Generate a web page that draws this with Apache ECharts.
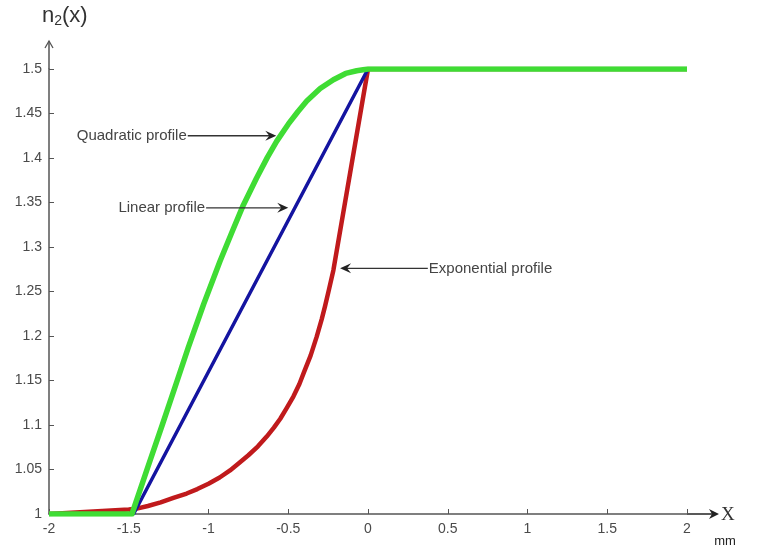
<!DOCTYPE html>
<html><head><meta charset="utf-8">
<script src="https://cdn.jsdelivr.net/npm/echarts@6/dist/echarts.min.js"></script>
<style>html,body{margin:0;padding:0;background:#fff}#c{width:757px;height:554px}</style>
</head><body><div id="c"></div>
<script>
// Quadratic profile (green)
const quadX = [-2, -1.48, -1.38, -1.29, -1.2, -1.127, -1.03, -0.928, -0.85, -0.782, -0.7, -0.63, -0.572, -0.5, -0.44, -0.384, -0.3, -0.217, -0.14, -0.071, 0, 2];
const quadY = [1, 1, 1.053, 1.100, 1.148, 1.187, 1.236, 1.284, 1.318, 1.347, 1.377, 1.401, 1.419, 1.438, 1.452, 1.464, 1.478, 1.488, 1.495, 1.498, 1.5, 1.5];
// Linear profile (blue)
const linX = [-2, -1.47, 0, 2];
const linY = [1, 1, 1.5, 1.5];
// Exponential profile (red)
const expX = [-2, -1.5, -1.45, -1.38, -1.3, -1.22, -1.137, -1.07, -1.0, -0.93, -0.865, -0.81, -0.75, -0.69, -0.635, -0.59, -0.55, -0.51, -0.468, -0.43, -0.4, -0.36, -0.322, -0.29, -0.27, -0.245, -0.217, 0, 2];
const expY = [1, 1.005, 1.006, 1.009, 1.013, 1.018, 1.023, 1.028, 1.034, 1.041, 1.049, 1.057, 1.066, 1.076, 1.087, 1.097, 1.107, 1.119, 1.132, 1.146, 1.160, 1.178, 1.199, 1.219, 1.233, 1.252, 1.274, 1.5, 1.5];

// Annotations (arrows in data units)
const annText  = ['Quadratic profile', 'Linear profile', 'Exponential profile'];
const annFromX = [-1.13, -1.015, 0.375];
const annToX   = [-0.575, -0.50, -0.175];
const annY     = [1.425, 1.344, 1.276];
const annSide  = ['left', 'left', 'right'];

const zip = (xs, ys) => xs.map((x, i) => [x, ys[i]]);
const chart = echarts.init(document.getElementById('c'), null, {renderer: 'canvas'});
const axisColor = '#555';
const labelFont = 'Liberation Sans, Arial, sans-serif';
const fmt = v => String(parseFloat(v.toFixed(2)));

chart.setOption({
  animation: false,
  backgroundColor: '#fff',
  grid: {left: 49, right: 70, top: 69, bottom: 40, containLabel: false, outerBoundsMode: 'none'},
  xAxis: {
    type: 'value', min: -2, max: 2, interval: 0.5,
    axisLine: {onZero: false, lineStyle: {color: axisColor, width: 1.5}},
    axisTick: {inside: true, length: 5, lineStyle: {color: axisColor}},
    splitLine: {show: false},
    axisLabel: {color: '#4a4a4a', fontSize: 14, fontFamily: labelFont, margin: 8, showMinLabel: true, showMaxLabel: true, formatter: fmt}
  },
  yAxis: {
    type: 'value', min: 1, max: 1.5, interval: 0.05,
    axisLine: {onZero: false, lineStyle: {color: axisColor, width: 1.5}},
    axisTick: {inside: true, length: 5, lineStyle: {color: axisColor}},
    splitLine: {show: false},
    axisLabel: {color: '#4a4a4a', fontSize: 14, fontFamily: labelFont, margin: 7, showMinLabel: true, showMaxLabel: true, formatter: fmt}
  },
  series: [
    {name: 'Exponential', type: 'line', data: zip(expX, expY), showSymbol: false, z: 2,
     lineStyle: {color: '#c01a1c', width: 4.5, join: 'round'}},
    {name: 'Linear', type: 'line', data: zip(linX, linY), showSymbol: false, z: 3,
     lineStyle: {color: '#1414a0', width: 3.5}},
    {name: 'Quadratic', type: 'line', data: zip(quadX, quadY), showSymbol: false, z: 4,
     lineStyle: {color: '#3fdc34', width: 5.5, join: 'round'}}
  ]
});

function px(x, y) { return chart.convertToPixel({gridIndex: 0}, [x, y]); }
const g = [];
const annFont = '15px Liberation Sans, Arial, sans-serif';
annText.forEach((t, i) => {
  const a = px(annFromX[i], annY[i]);
  const b = px(annToX[i], annY[i]);
  const dir = b[0] > a[0] ? 1 : -1;
  g.push({type: 'line', shape: {x1: a[0], y1: a[1], x2: b[0] - dir * 4, y2: b[1]},
          style: {stroke: '#333', lineWidth: 1.3}, z: 10});
  g.push({type: 'polygon', shape: {points: [[b[0], b[1]], [b[0] - dir * 11, b[1] - 5], [b[0] - dir * 7, b[1]], [b[0] - dir * 11, b[1] + 5]]},
          style: {fill: '#222'}, z: 10});
  g.push({type: 'text', x: annSide[i] === 'left' ? a[0] - 1 : a[0] + 1, y: a[1],
          style: {text: t, font: annFont, fill: '#444', align: annSide[i] === 'left' ? 'right' : 'left', verticalAlign: 'middle'}, z: 10});
});
// axis arrow extensions
const o = px(-2, 1), yTop = px(-2, 1.5), xEnd = px(2, 1);
g.push({type: 'line', shape: {x1: o[0], y1: yTop[1], x2: o[0], y2: yTop[1] - 28}, style: {stroke: axisColor, lineWidth: 1.5}});
g.push({type: 'polyline', shape: {points: [[o[0] - 4, yTop[1] - 21], [o[0], yTop[1] - 28], [o[0] + 4, yTop[1] - 21]]}, style: {stroke: axisColor, lineWidth: 1.3, fill: null}});
g.push({type: 'line', shape: {x1: xEnd[0], y1: xEnd[1], x2: xEnd[0] + 26, y2: xEnd[1]}, style: {stroke: '#222', lineWidth: 1.5}});
g.push({type: 'polygon', shape: {points: [[xEnd[0] + 32, xEnd[1]], [xEnd[0] + 22, xEnd[1] - 5], [xEnd[0] + 25, xEnd[1]], [xEnd[0] + 22, xEnd[1] + 5]]}, style: {fill: '#222'}});
g.push({type: 'text', x: xEnd[0] + 34, y: xEnd[1] + 1, style: {text: 'X', font: '19px Liberation Serif, serif', fill: '#333', align: 'left', verticalAlign: 'middle'}});
g.push({type: 'text', x: xEnd[0] + 38, y: xEnd[1] + 27, style: {text: 'mm', font: '13px Liberation Sans, Arial, sans-serif', fill: '#222', align: 'center', verticalAlign: 'middle'}});
// y axis name n2(x)
g.push({type: 'text', x: 42, y: 16, style: {
  text: '{n|n}{s|2}{n|(x)}', align: 'left', verticalAlign: 'middle',
  rich: {n: {font: '22px Liberation Sans, Arial, sans-serif', fill: '#333'},
         s: {font: '14px Liberation Sans, Arial, sans-serif', fill: '#333', padding: [10, 0, 0, 0]}}
}});
chart.setOption({graphic: g});
</script></body></html>
